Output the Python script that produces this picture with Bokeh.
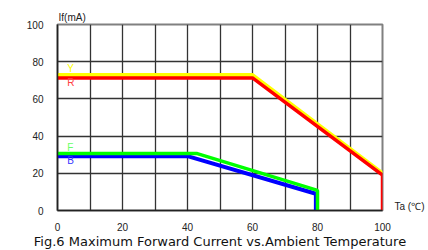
from bokeh.plotting import figure
from bokeh.models import Range1d, FixedTicker, Label, Title, LinearAxis
from bokeh.embed import file_html
from bokeh.resources import INLINE

# Data
y_x = [0, 60, 100]
y_v = [72.8, 72.8, 20]
r_x = [0, 60, 100, 100]
r_v = [71.3, 71.3, 19, 0]
f_x = [0, 43, 80, 80]
f_v = [30.6, 30.6, 10.8, 0]
b_x = [0, 40, 79.5, 79.5]
b_v = [29.2, 29.2, 9, 0]

x_ticks = [0, 20, 40, 60, 80, 100]
y_ticks = [0, 20, 40, 60, 80, 100]
x_grid = [10, 20, 30, 40, 50, 60, 70, 80, 90, 100]
y_grid = [20, 40, 60, 80, 100]

y_title = "If(mA)"
x_title = "Ta (℃)"
caption = "Fig.6 Maximum Forward Current vs.Ambient Temperature"

p = figure(width=428, height=250, output_backend="svg", toolbar_location=None,
           x_range=Range1d(0, 100), y_range=Range1d(0, 100),
           min_border_left=57, min_border_right=46, min_border_top=24, min_border_bottom=40)
p.background_fill_color = "white"
p.border_fill_color = "white"
p.outline_line_color = "#808080"
p.outline_line_width = 2

p.xgrid.ticker = FixedTicker(ticks=x_grid)
p.ygrid.ticker = FixedTicker(ticks=y_grid)
for g in (p.xgrid, p.ygrid):
    g.grid_line_color = "#333333"
    g.grid_line_width = 1.3
    g.grid_line_alpha = 1.0

for ax, ticks in ((p.xaxis, x_ticks), (p.yaxis, y_ticks)):
    ax.ticker = FixedTicker(ticks=ticks)
    ax.major_tick_line_color = None
    ax.minor_tick_line_color = None
    ax.major_label_text_font = "Liberation Sans"
    ax.major_label_text_font_size = "10px"
    ax.major_label_text_color = "#222222"
    ax.axis_line_color = "#222222"
    ax.axis_line_width = 1.5
p.xaxis.major_label_standoff = 6
p.yaxis.major_label_standoff = 8

# x-axis title drawn as a right-side axis label next to the bottom of the frame
rax = LinearAxis(ticker=FixedTicker(ticks=[2]), major_label_overrides={2: x_title})
rax.axis_line_color = None
rax.major_tick_line_color = None
rax.minor_tick_line_color = None
rax.major_label_standoff = 6
rax.major_label_text_font = "Liberation Sans"
rax.major_label_text_font_size = "10px"
rax.major_label_text_color = "#222222"
p.add_layout(rax, "right")

p.line(y_x, y_v, line_color="#ffff00", line_width=4)
p.line(r_x, r_v, line_color="#ff0000", line_width=3.5)
p.line(b_x, b_v, line_color="#0000ff", line_width=4)
p.line(f_x, f_v, line_color="#00ff00", line_width=3.5)

def lab(x, y, t, c):
    p.add_layout(Label(x=x, y=y, text=t, text_color=c,
                       text_font_size="10px", text_font="Liberation Sans",
                       text_baseline="middle"))

lab(3, 76.5, "Y", "#ffff00")
lab(3, 69, "R", "#ff4040")
lab(3, 34, "F", "#66ff66")
lab(3, 27, "B", "#3333ff")

p.add_layout(Title(text=y_title, align="left", offset=1, text_font="Liberation Sans",
                   text_font_size="10px", text_font_style="normal",
                   text_color="#222222", standoff=4), "above")
p.add_layout(Title(text=caption, align="center", vertical_align="top",
                   text_font="DejaVu Sans",
                   text_font_size="13px", text_font_style="normal",
                   text_color="#111111", standoff=0), "below")

open("out.html", "w").write(file_html(p, INLINE))
